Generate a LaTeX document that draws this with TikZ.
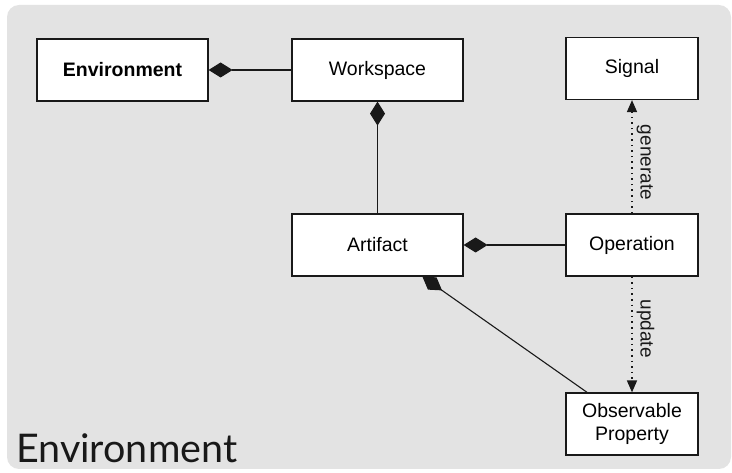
\documentclass[tikz,border=0pt]{standalone}
\usepackage{fontspec}
\setmainfont{Liberation Sans}
\newfontfamily\captionfont{Lato}
\usetikzlibrary{arrows.meta, positioning}
\definecolor{panelgray}{RGB}{227, 227, 227}
\definecolor{edgeblack}{RGB}{25, 25, 25}

\begin{document}
\begin{tikzpicture}[x=1pt, y=-1pt,
  box/.style={draw=edgeblack, fill=white, line width=1.2pt, minimum width=171pt, minimum height=62pt,
    inner sep=0pt, align=center, font=\fontsize{19.5}{23}\selectfont},
  smallbox/.style={box, minimum width=132pt},
  comp/.style={line width=1.1pt, edgeblack, -{Diamond[length=24pt, width=15pt]}},
  dep/.style={line width=1.6pt, edgeblack, dash pattern=on 1.6pt off 4pt, -{Triangle[length=12pt, width=10pt]}},
  deplabel/.style={rotate=-90, anchor=south, inner sep=4pt, font=\fontsize{19}{21}\selectfont}]
  \useasboundingbox (0,0) rectangle (732,473);

  % panel
  \fill[panelgray, rounded corners=12pt] (7,5) rectangle (731,469);
  \node[anchor=base west, inner sep=0pt, font=\captionfont\fontsize{39.5}{42}\selectfont, text=black!90]
    (paneltitle) at (16,462) {Environment};

  % boxes
  \node[box, font=\fontsize{19.5}{23}\selectfont\bfseries] (env) at (122.5,70) {Environment};
  \node[box] (ws) at (377.5,70) {Workspace};
  \node[box] (art) at (377.5,245) {Artifact};
  \node[smallbox] (sig) at (632,68.5) {Signal};
  \node[smallbox] (op) at (632,245) {Operation};
  \node[smallbox] (obs) at (632,424) {Observable\\Property};

  % composition
  \draw[comp] (ws) -- (env);
  \draw[comp] (art) -- (ws);
  \draw[comp] (op) -- (art);
  \draw[comp] (obs) -- (art);

  % dependencies
  \draw[dep] (op) -- (sig) node[deplabel, pos=0.45] (genlabel) {generate};
  \draw[dep] (op) -- (obs) node[deplabel, pos=0.45] (updlabel) {update};
\end{tikzpicture}
\end{document}
